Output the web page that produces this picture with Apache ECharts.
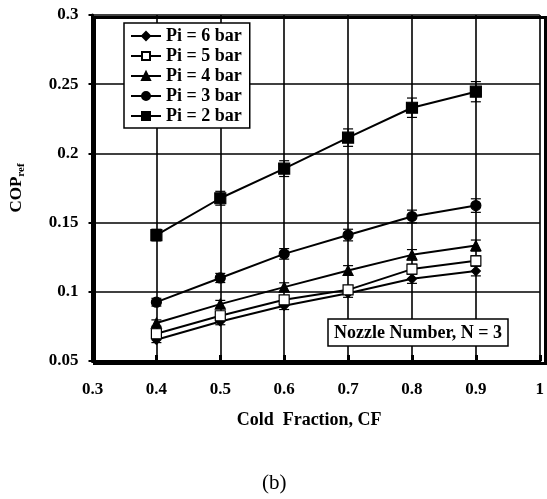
<!DOCTYPE html>
<html><head><meta charset="utf-8">
<script src="https://cdn.jsdelivr.net/npm/echarts@6/dist/echarts.min.js"></script>
<style>html,body{margin:0;padding:0;background:#fff}#c{width:547px;height:499px}</style>
</head><body><div id="c"></div>
<script>
const coldFraction = [0.4, 0.5, 0.6, 0.7, 0.8, 0.9];
const seriesNames = ['Pi = 6 bar', 'Pi = 5 bar', 'Pi = 4 bar', 'Pi = 3 bar', 'Pi = 2 bar'];
const pi6 = [0.0653, 0.0786, 0.0899, 0.0990, 0.1094, 0.1150];
const pi5 = [0.0697, 0.0827, 0.0942, 0.1014, 0.1164, 0.1224];
const pi4 = [0.0774, 0.0911, 0.1034, 0.1154, 0.1267, 0.1334];
const pi3 = [0.0925, 0.1100, 0.1274, 0.1410, 0.1544, 0.1623];
const pi2 = [0.1410, 0.1676, 0.1890, 0.2114, 0.2330, 0.2446];
const err6 = [0.0020, 0.0024, 0.0027, 0.0030, 0.0033, 0.0035];
const err5 = [0.0021, 0.0025, 0.0028, 0.0030, 0.0035, 0.0037];
const err4 = [0.0023, 0.0027, 0.0031, 0.0035, 0.0038, 0.0040];
const err3 = [0.0028, 0.0033, 0.0038, 0.0042, 0.0046, 0.0049];
const err2 = [0.0042, 0.0050, 0.0057, 0.0063, 0.0070, 0.0073];
const xTicks = {min: 0.3, max: 1, interval: 0.1};
const yTicks = {min: 0.05, max: 0.3, interval: 0.05};

const values = [pi6, pi5, pi4, pi3, pi2];
const errs = [err6, err5, err4, err3, err2];
const symbols = ['diamond', 'rect', 'triangle', 'circle', 'rect'];
const sizes = [9, 10, 10, 10, 11];
const fills = ['#000', '#fff', '#000', '#000', '#000'];
const FONT = 'Liberation Serif';

const series = [];
values.forEach((vals, i) => {
  series.push({
    name: seriesNames[i], type: 'line',
    data: coldFraction.map((x, j) => [x, vals[j]]),
    symbol: symbols[i], symbolSize: sizes[i], showAllSymbol: true,
    lineStyle: {color: '#000', width: 2},
    itemStyle: {color: fills[i], borderColor: '#000', borderWidth: 1.2},
    z: 4, animation: false
  });
  series.push({
    type: 'custom', name: seriesNames[i] + ' err',
    data: coldFraction.map((x, j) => [x, vals[j] - errs[i][j], vals[j] + errs[i][j]]),
    renderItem: function (params, api) {
      const lo = api.coord([api.value(0), api.value(1)]);
      const hi = api.coord([api.value(0), api.value(2)]);
      const w = 5;
      const st = {stroke: '#000', lineWidth: 1.2};
      return {type: 'group', children: [
        {type: 'line', shape: {x1: lo[0], y1: lo[1], x2: hi[0], y2: hi[1]}, style: st},
        {type: 'line', shape: {x1: lo[0]-w, y1: lo[1], x2: lo[0]+w, y2: lo[1]}, style: st},
        {type: 'line', shape: {x1: hi[0]-w, y1: hi[1], x2: hi[0]+w, y2: hi[1]}, style: st}
      ]};
    },
    z: 3, animation: false
  });
});

const chart = echarts.init(document.getElementById('c'));
chart.setOption({
  animation: false,
  backgroundColor: '#fff',
  textStyle: {fontFamily: FONT},
  grid: {left: 92, right: 4, top: 15, bottom: 138, show: false},
  title: [{
    text: 'Nozzle Number, N = 3', left: 328, top: 319,
    padding: [4, 6, 3, 6], borderColor: '#000', borderWidth: 1.5, backgroundColor: '#fff',
    textStyle: {fontFamily: FONT, fontWeight: 'bold', fontSize: 18, color: '#000', lineHeight: 20}
  }, {
    text: '(b)', left: 262, top: 473, padding: 0,
    textStyle: {fontFamily: FONT, fontWeight: 'normal', fontSize: 21, color: '#000'}
  }],
  legend: {
    orient: 'vertical', left: 124, top: 23,
    data: seriesNames,
    padding: [4, 8, 3, 6], itemGap: 2, itemWidth: 30, itemHeight: 10,
    borderColor: '#000', borderWidth: 1.5, backgroundColor: '#fff',
    textStyle: {fontFamily: FONT, fontWeight: 'bold', fontSize: 18, color: '#000', lineHeight: 18, padding: [0, 0, 0, 0]},
    z: 10
  },
  xAxis: {
    type: 'value', min: xTicks.min, max: xTicks.max, interval: xTicks.interval,
    name: 'Cold  Fraction, CF', nameLocation: 'middle', nameGap: 50,
    nameTextStyle: {fontFamily: FONT, fontWeight: 'bold', fontSize: 18, color: '#000', padding: [0, 14, 0, 0]},
    axisLine: {show: true, lineStyle: {color: '#000', width: 3}},
    axisTick: {show: true, inside: true, length: 6, lineStyle: {color: '#000', width: 3}},
    axisLabel: {fontFamily: FONT, fontWeight: 'bold', fontSize: 17, color: '#000', margin: 20,
      formatter: v => String(+v.toFixed(2))},
    splitLine: {show: true, lineStyle: {color: '#000', width: 1.6}}
  },
  yAxis: {
    type: 'value', min: yTicks.min, max: yTicks.max, interval: yTicks.interval,
    name: '{a|COP}{b|ref}', nameLocation: 'middle', nameGap: 66, nameRotate: 90,
    nameTextStyle: {rich: {
      a: {fontFamily: FONT, fontWeight: 'bold', fontSize: 17, color: '#000'},
      b: {fontFamily: FONT, fontWeight: 'bold', fontSize: 11, color: '#000', padding: [9, 0, 0, 0]}
    }},
    axisLine: {show: true, lineStyle: {color: '#000', width: 3}},
    axisTick: {show: true, inside: false, length: 4, lineStyle: {color: '#000', width: 2}},
    axisLabel: {fontFamily: FONT, fontWeight: 'bold', fontSize: 17, color: '#000', margin: 14,
      formatter: v => String(+v.toFixed(2))},
    splitLine: {show: true, lineStyle: {color: '#000', width: 1.6}}
  },
  graphic: [{
    type: 'rect', left: 92, top: 15, z: 100, silent: true,
    shape: {width: 451, height: 346},
    style: {fill: 'none', stroke: '#000', lineWidth: 3}
  }],
  series: series
});
</script></body></html>
